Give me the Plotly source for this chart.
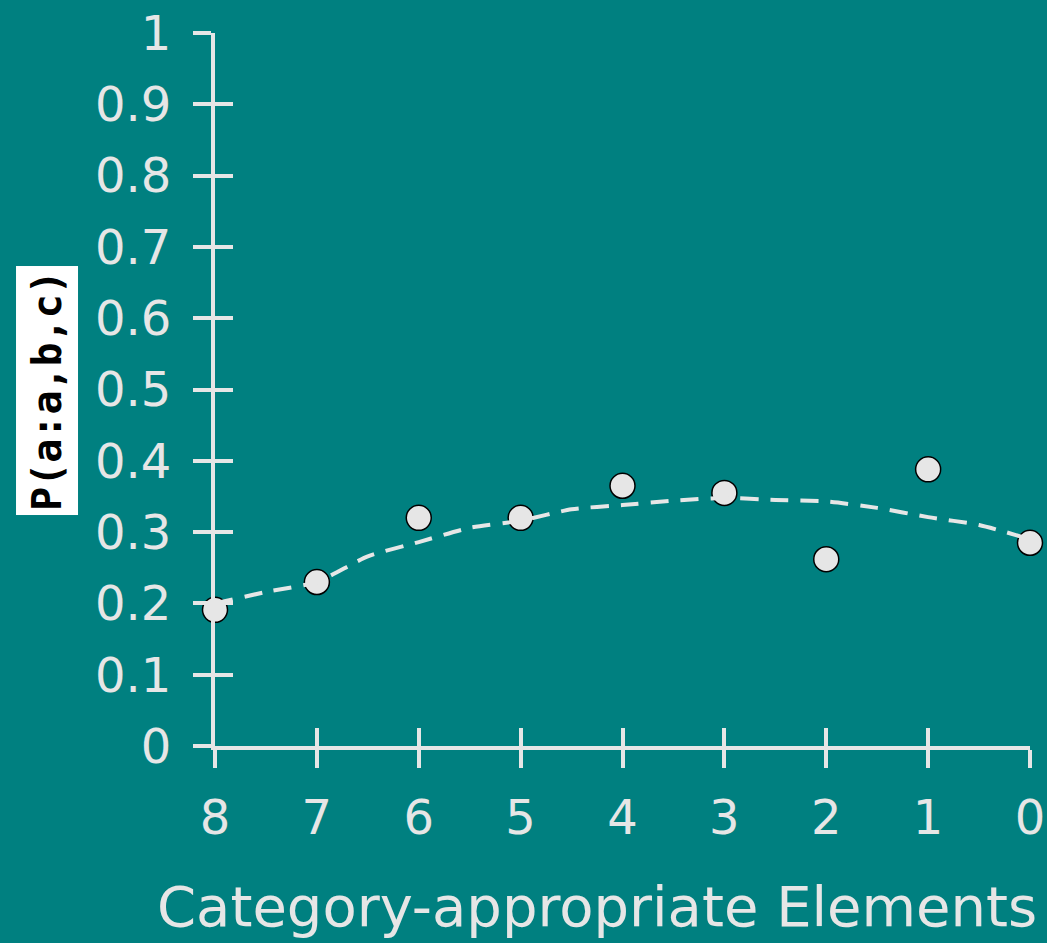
import plotly.graph_objects as go

# ---- data ----
x_points = [8, 7, 6, 5, 4, 3, 2, 1, 0]
y_points = [0.191, 0.230, 0.320, 0.320, 0.365, 0.355, 0.262, 0.388, 0.285]

x_fit = [8, 7.5, 7, 6.5, 6, 5.5, 5, 4.5, 4, 3.5, 3, 2.5, 2, 1.5, 1, 0.5, 0]
y_fit = [0.200, 0.216, 0.230, 0.266, 0.286, 0.306, 0.316, 0.332, 0.338,
         0.344, 0.348, 0.345, 0.343, 0.334, 0.321, 0.310, 0.290]

x_ticks = [8, 7, 6, 5, 4, 3, 2, 1, 0]
x_ticktext = ["8", "7", "6", "5", "4", "3", "2", "1", "0"]
y_ticks = [0, 0.1, 0.2, 0.3, 0.4, 0.5, 0.6, 0.7, 0.8, 0.9, 1.0]
y_ticktext = ["0", "0.1", "0.2", "0.3", "0.4", "0.5", "0.6", "0.7", "0.8", "0.9", "1"]

x_title = "Category-appropriate Elements"
y_title = "P(a:a,b,c)"

BG = "#008080"
FG = "#e6e6e6"
FONT = "DejaVu Sans"

fig = go.Figure()
# fit line drawn on the overlay axes (so their inside ticks render)
fig.add_trace(go.Scatter(
    x=x_fit, y=y_fit, mode="lines", xaxis="x2", yaxis="y2",
    line=dict(color=FG, width=4, dash="18px,12px", shape="spline", smoothing=0.6),
    cliponaxis=False, showlegend=False, hoverinfo="skip",
))
fig.add_trace(go.Scatter(
    x=x_points, y=y_points, mode="markers",
    marker=dict(size=25, color=FG, line=dict(color="black", width=1.5)),
    cliponaxis=False, showlegend=False,
))

axis_common = dict(showgrid=False, zeroline=False, color=FG, automargin=False,
                   tickcolor=FG, tickwidth=4, ticklen=18)

fig.update_layout(
    width=1047, height=943,
    paper_bgcolor=BG, plot_bgcolor=BG,
    margin=dict(l=215, r=17, t=33, b=197),
    font=dict(family=FONT, color=FG),
    xaxis=dict(range=[8, 0], tickvals=x_ticks, ticktext=x_ticktext,
               ticks="outside", showline=True, linecolor=FG, linewidth=4,
               tickfont=dict(size=48, family=FONT, color=FG),
               ticklabelstandoff=8, **axis_common),
    xaxis2=dict(range=[8, 0], overlaying="x", anchor="y", side="bottom",
                tickvals=x_ticks, ticks="inside",
                showticklabels=False, showline=False, **axis_common),
    yaxis=dict(range=[0, 1], tickvals=y_ticks, ticktext=y_ticktext,
               ticks="outside", showline=True, linecolor=FG, linewidth=4,
               tickfont=dict(size=48, family=FONT, color=FG),
               ticklabelstandoff=12, **axis_common),
    yaxis2=dict(range=[0, 1], overlaying="y", anchor="x", side="left",
                tickvals=y_ticks, ticks="inside",
                showticklabels=False, showline=False, **axis_common),
)

fig.add_annotation(
    text=x_title, xref="paper", yref="paper",
    x=0.4687, y=-0.2735, xanchor="center", yanchor="bottom",
    showarrow=False, font=dict(size=56, family=FONT, color=FG),
)
fig.add_annotation(
    text="<b>" + y_title + "</b>", xref="paper", yref="paper",
    x=-0.2055, y=0.4979, xanchor="center", yanchor="middle",
    textangle=-90, showarrow=False,
    font=dict(size=40, family="DejaVu Sans Mono", color="black"),
    bgcolor="white", width=244, height=57, borderpad=2,
)

fig.write_html("out.html", config={"displayModeBar": False},
               post_script="document.body.style.margin='0';")
